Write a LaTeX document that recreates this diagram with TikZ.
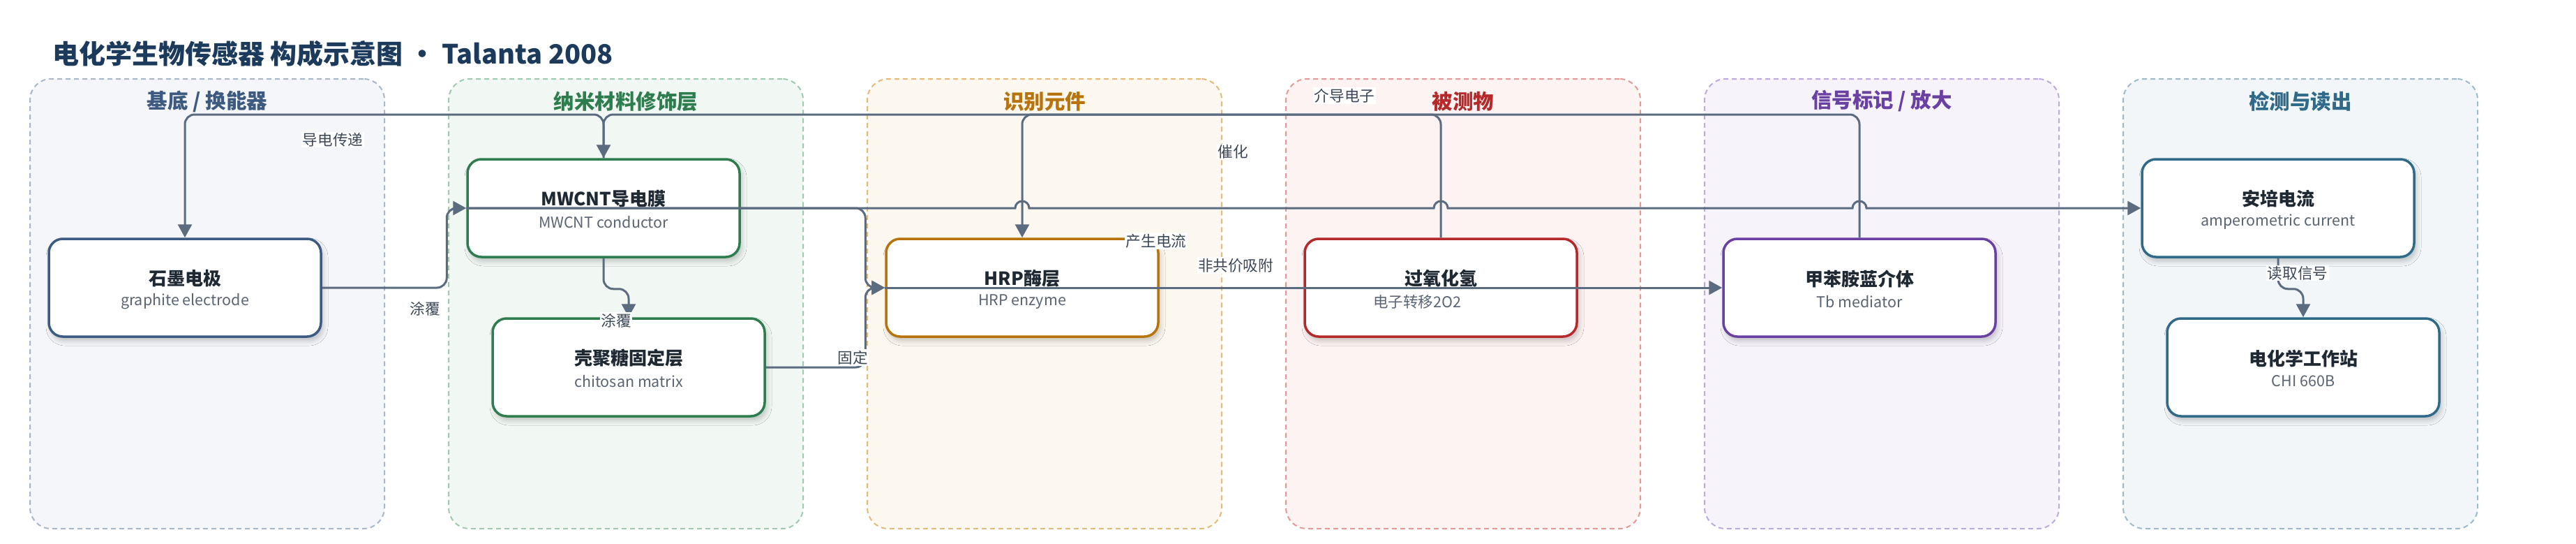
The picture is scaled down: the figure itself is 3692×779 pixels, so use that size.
\documentclass[tikz,border=0pt]{standalone}
\usepackage{fontspec}
\setmainfont{Noto Sans CJK SC}
\usetikzlibrary{arrows.meta,shadows.blur,calc}
\definecolor{titlec}{HTML}{1B3A5C}
\definecolor{edgec}{HTML}{5B6B80}
\definecolor{labelc}{HTML}{3C4757}
\definecolor{nodetitle}{HTML}{1F2933}
\definecolor{nodesub}{HTML}{5A6472}
\definecolor{cA}{HTML}{3D5A80}\definecolor{fA}{HTML}{F4F6FA}\definecolor{bA}{HTML}{A9B7CA}
\definecolor{cB}{HTML}{2E7D4F}\definecolor{fB}{HTML}{F1F8F3}\definecolor{bB}{HTML}{9FCAAE}
\definecolor{cC}{HTML}{B8730A}\definecolor{fC}{HTML}{FDF8EF}\definecolor{bC}{HTML}{E2BB7C}
\definecolor{cD}{HTML}{B5292A}\definecolor{fD}{HTML}{FDF3F2}\definecolor{bD}{HTML}{E39A97}
\definecolor{cE}{HTML}{6A40A3}\definecolor{fE}{HTML}{F6F3FB}\definecolor{bE}{HTML}{BCAADD}
\definecolor{cF}{HTML}{2F6B88}\definecolor{fF}{HTML}{F2F6F8}\definecolor{bF}{HTML}{9DBACB}
\begin{document}
\begin{tikzpicture}[x=1pt,y=-1pt,
  lanebox/.style 2 args={draw=#1,fill=#2,line width=2pt,dash pattern=on 7pt off 5pt,rounded corners=30pt,minimum width=508pt,minimum height=644pt,inner sep=0pt,anchor=north west},
  lanetitle/.style={text=#1,font=\fontsize{29.5}{34}\selectfont\bfseries,inner sep=0pt},
  nbox/.style={draw=#1,fill=white,line width=3.5pt,rounded corners=20pt,minimum width=390pt,minimum height=140pt,inner sep=0pt,blur shadow={shadow xshift=3pt,shadow yshift=-6pt,shadow blur radius=7pt,shadow opacity=22}},
  ntitle/.style={text=nodetitle,font=\fontsize{26}{30}\selectfont\bfseries,inner sep=0pt},
  nsub/.style={text=nodesub,font=\fontsize{21.5}{25}\selectfont,inner sep=0pt},
  conn/.style={draw=edgec,line width=3pt,rounded corners=14pt},
  straight/.style={draw=edgec,line width=3pt},
  endarrow/.style={-{Triangle[length=19pt,width=20pt]}},
  elabel/.style={fill=white,text=labelc,font=\fontsize{21.6}{25}\selectfont,inner sep=1.5pt},
]
\useasboundingbox (0,0) rectangle (3692,779);
\fill[white] (0,0) rectangle (3692,779);

% title
\node[anchor=west,text=titlec,font=\fontsize{38}{44}\selectfont\bfseries,inner sep=0pt] (title) at (75,77) {电化学生物传感器 构成示意图 · Talanta 2008};

% lanes
\node[lanebox={bA}{fA}] (laneA) at (42,112) {};
\node[lanebox={bB}{fB}] (laneB) at (642,112) {};
\node[lanebox={bC}{fC}] (laneC) at (1242,112) {};
\node[lanebox={bD}{fD}] (laneD) at (1842,112) {};
\node[lanebox={bE}{fE}] (laneE) at (2442,112) {};
\node[lanebox={bF}{fF}] (laneF) at (3042,112) {};
\node[lanetitle=cA] (ltA) at ([yshift=-33pt]laneA.north) {基底 / 换能器};
\node[lanetitle=cB] (ltB) at ([yshift=-33pt]laneB.north) {纳米材料修饰层};
\node[lanetitle=cC] (ltC) at ([yshift=-33pt]laneC.north) {识别元件};
\node[lanetitle=cD] (ltD) at ([yshift=-33pt]laneD.north) {被测物};
\node[lanetitle=cE] (ltE) at ([yshift=-33pt]laneE.north) {信号标记 / 放大};
\node[lanetitle=cF] (ltF) at ([yshift=-33pt]laneF.north) {检测与读出};

% nodes
\node[nbox=cA] (graphite) at (265,412) {};
\node[nbox=cB] (mwcnt) at (865,298) {};
\node[nbox=cB] (chitosan) at (901,526) {};
\node[nbox=cC] (hrp) at (1465,412) {};
\node[nbox=cD] (h2o2) at (2065,412) {};
\node[nbox=cE] (tb) at (2665,412) {};
\node[nbox=cF] (amp) at (3265,298) {};
\node[nbox=cF] (station) at (3301,526) {};

\node[ntitle] (graphiteT) at ([yshift=13pt]graphite.center) {石墨电极};
\node[nsub] (graphiteS) at ([yshift=-20pt]graphite.center) {graphite electrode};
\node[ntitle] (mwcntT) at ([yshift=13pt]mwcnt.center) {MWCNT导电膜};
\node[nsub] (mwcntS) at ([yshift=-20pt]mwcnt.center) {MWCNT conductor};
\node[ntitle] (chitosanT) at ([yshift=13pt]chitosan.center) {壳聚糖固定层};
\node[nsub] (chitosanS) at ([yshift=-20pt]chitosan.center) {chitosan matrix};
\node[ntitle] (hrpT) at ([yshift=13pt]hrp.center) {HRP酶层};
\node[nsub] (hrpS) at ([yshift=-20pt]hrp.center) {HRP enzyme};
\node[ntitle] (h2o2T) at ([yshift=13pt]h2o2.center) {过氧化氢};
\node[nsub] (h2o2S) at ([xshift=-34pt,yshift=-20pt]h2o2.center) {电子转移2O2};
\node[ntitle] (tbT) at ([yshift=13pt]tb.center) {甲苯胺蓝介体};
\node[nsub] (tbS) at ([yshift=-20pt]tb.center) {Tb mediator};
\node[ntitle] (ampT) at ([yshift=13pt]amp.center) {安培电流};
\node[nsub] (ampS) at ([yshift=-20pt]amp.center) {amperometric current};
\node[ntitle] (stationT) at ([yshift=13pt]station.center) {电化学工作站};
\node[nsub] (stationS) at ([yshift=-20pt]station.center) {CHI 660B};

% connectors
\coordinate (top) at (0,164);
\draw[conn,endarrow] (mwcnt.north) -- (mwcnt.north |- top) -| (graphite.north);
\draw[conn,endarrow] (tb.north) -- (tb.north |- top) -| (mwcnt.north);
\draw[conn,endarrow] (h2o2.north) -- (h2o2.north |- top) -| (hrp.north);
\draw[conn,endarrow] (graphite.east) -| ([xshift=-28pt]mwcnt.west) -- (mwcnt.west);
\draw[conn,endarrow] (mwcnt.south) -- ++(0,44) -| (chitosan.north);
\draw[conn,endarrow] (chitosan.east) -| ([xshift=-28pt]hrp.west) -- (hrp.west);
\draw[conn,endarrow] (mwcnt.west) -| ([xshift=-28pt]hrp.west) -- (hrp.west);
\draw[straight,endarrow] (mwcnt.west) -- ([xshift=-10pt]hrp.north |- mwcnt.west) arc[start angle=180,end angle=0,radius=10pt]
   -- ([xshift=-10pt]h2o2.north |- mwcnt.west) arc[start angle=180,end angle=0,radius=10pt]
   -- ([xshift=-10pt]tb.north |- mwcnt.west) arc[start angle=180,end angle=0,radius=10pt]
   -- (amp.west);
\draw[straight,endarrow] (hrp.west) -- (tb.west);
\draw[conn,endarrow] (amp.south) -- ++(0,44) -| (station.north);

% connector labels
\node[elabel] (lab1) at (609,442) {涂覆};
\node[elabel] (lab2) at (883,459) {涂覆};
\node[elabel] (lab3) at (1222,512) {固定};
\node[elabel] (lab4) at (477,200) {导电传递};
\node[elabel] (lab5) at (1767,217) {催化};
\node[elabel] (lab6) at (1927,137) {介导电子};
\node[elabel] (lab7) at (1657,345) {产生电流};
\node[elabel] (lab8) at (1771,380) {非共价吸附};
\node[elabel] (lab9) at (3293,391) {读取信号};
\end{tikzpicture}
\end{document}
